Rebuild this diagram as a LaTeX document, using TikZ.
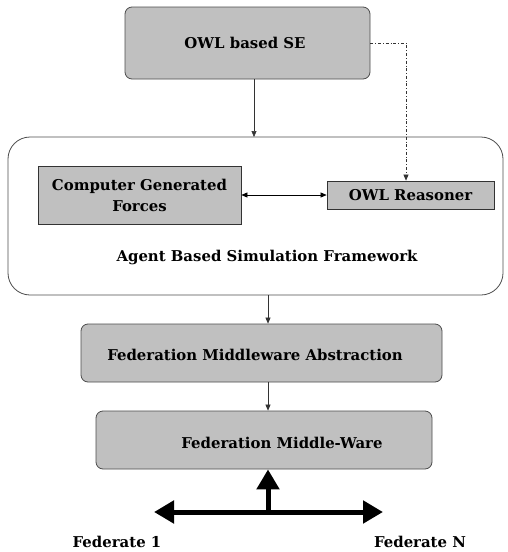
\documentclass[tikz,border=0pt]{standalone}
\usepackage{fontspec}
\setmainfont{DejaVu Serif}
\usetikzlibrary{arrows.meta}
\definecolor{boxgray}{HTML}{C0C0C0}
\begin{document}
\begin{tikzpicture}[x=1pt,y=-1pt,
  font=\bfseries\fontsize{14.9}{21}\selectfont,
  rbox/.style={draw=black!70,fill=boxgray,rounded corners=7pt,line width=0.8pt},
  sbox/.style={draw=black!80,fill=boxgray,line width=0.8pt},
  arr/.style={-{Triangle[length=6pt,width=5pt]},line width=0.6pt,draw=black!80},
  biga/.style={-{Triangle[length=20pt,width=22pt]},line width=5pt}]
\useasboundingbox (0,0) rectangle (507,552);
% containers
\draw[black!70,line width=0.8pt,rounded corners=22pt] (8,137) rectangle (503,295);
\node[rbox,minimum width=245pt,minimum height=72pt] (se) at (247.5,43) {};
\node at (245,43) {OWL based SE};
\node[sbox,minimum width=203pt,minimum height=58pt,align=center,inner sep=0pt] (cgf) at (139.5,195) {Computer Generated\\Forces};
\node[sbox,minimum width=167pt,minimum height=28pt,inner sep=0pt] (owl) at (410.5,195) {OWL Reasoner};
\node (abs) at (267,257) {Agent Based Simulation Framework};
\coordinate (fwtop) at (254,137);
\coordinate (fwbot) at (268,295);
\node[rbox,minimum width=361pt,minimum height=58pt] (fma) at (261.5,353) {};
\node at (255,355) {Federation Middleware Abstraction};
\node[rbox,minimum width=336pt,minimum height=58pt] (fmw) at (264,440) {};
\node at (282,443) {Federation Middle-Ware};
\node (f1) at (117,542) {Federate 1};
\node (fn) at (420,542) {Federate N};
% connectors
\draw[arr] (se.south -| fwtop) -- (fwtop);
\draw[arr,dash dot] (se.east) -| (owl.north -| 406,0);
\draw[{Triangle[length=6pt,width=5pt]}-{Triangle[length=6pt,width=5pt]},line width=0.6pt] (cgf.east) -- (owl.west);
\draw[arr] (fwbot) -- (fwbot |- fma.north);
\draw[arr] (fwbot |- fma.south) -- (fwbot |- fmw.north);
\coordinate (hub) at (268,512);
\coordinate (hl) at (154,512);
\coordinate (hr) at (383,512);
\draw[biga] (hub) -- (hub |- fmw.south);
\draw[biga] (hub) -- (hl);
\draw[biga] (hub) -- (hr);
\end{tikzpicture}
\end{document}
